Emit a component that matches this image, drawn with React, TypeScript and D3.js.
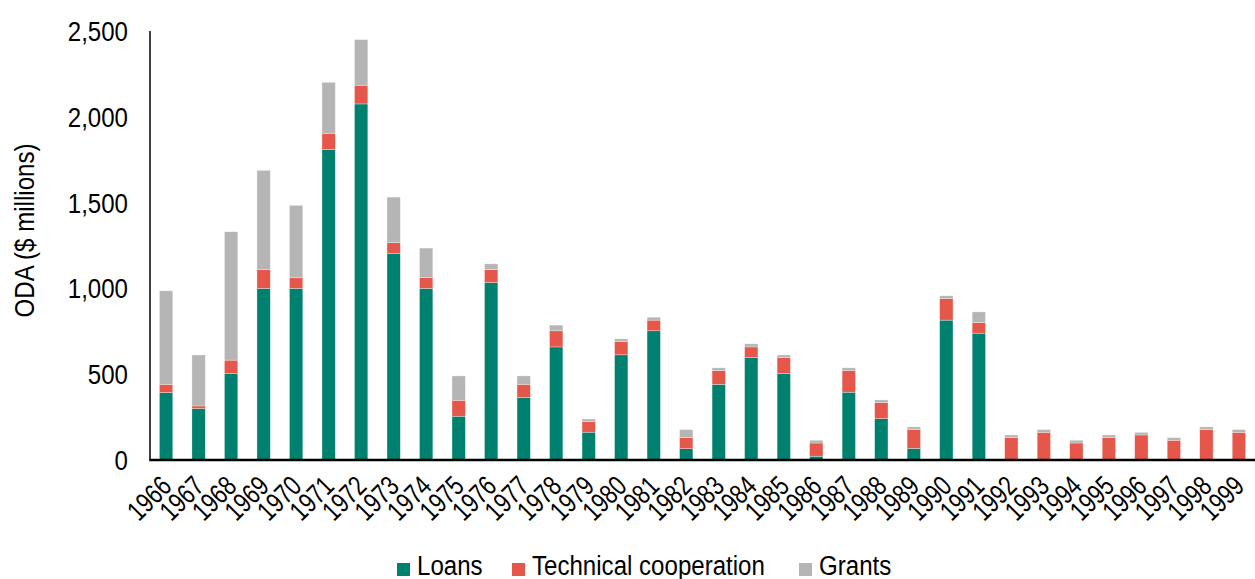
import React from 'react';
import * as d3 from 'd3';

const years = [
  '1966', '1967', '1968', '1969', '1970', '1971', '1972', '1973', '1974', '1975',
  '1976', '1977', '1978', '1979', '1980', '1981', '1982', '1983', '1984', '1985',
  '1986', '1987', '1988', '1989', '1990', '1991', '1992', '1993', '1994', '1995',
  '1996', '1997', '1998', '1999',
];

const loans = [
  393, 300, 504, 1000, 1000, 1810, 2075, 1204, 1000, 255,
  1034, 364, 659, 162, 613, 753, 66, 441, 597, 504,
  22, 395, 241, 68, 815, 739, 0, 0, 0, 0,
  0, 0, 0, 0,
];

const technical = [
  48, 15, 78, 110, 62, 94, 109, 62, 64, 93,
  76, 77, 94, 62, 77, 62, 64, 80, 62, 93,
  77, 126, 93, 109, 126, 62, 130, 161, 99, 130,
  146, 115, 177, 161,
];

const grants = [
  545, 297, 748, 578, 422, 297, 266, 266, 171, 142,
  33, 49, 33, 15, 16, 17, 47, 16, 18, 15,
  16, 16, 16, 16, 16, 62, 16, 16, 16, 16,
  15, 15, 16, 16,
];

const yTicks = [0, 500, 1000, 1500, 2000, 2500];

const seriesNames = ['Loans', 'Technical cooperation', 'Grants'];
const seriesColors = ['#00806E', '#E5574A', '#B5B5B5'];

const W = 1255;
const H = 579;
const FONT = "'Liberation Sans', Arial, sans-serif";
// squeeze Liberation Sans to look like the condensed face of the original
const NARROW = 0.86;

export default function App() {
  const svgRef = React.useRef<SVGSVGElement | null>(null);

  React.useEffect(() => {
    const svg = d3.select(svgRef.current);
    if (!svgRef.current) return;
    svg.selectAll('*').remove();

    const left = 150;
    const right = W;
    const top = 31;
    const bottom = 460;

    const rows = years.map((y, i) => ({
      year: y,
      Loans: loans[i],
      'Technical cooperation': technical[i],
      Grants: grants[i],
    }));

    const x = d3.scaleBand<string>().domain(years).range([left, right]).paddingInner(0.59).paddingOuter(0.29);
    const y = d3.scaleLinear().domain([0, 2500]).range([bottom, top]);

    const stack = d3.stack<any>().keys(seriesNames)(rows);

    // bars
    const layers = svg.append('g')
      .selectAll('g')
      .data(stack)
      .join('g')
      .attr('fill', (_, i) => seriesColors[i]);

    layers.selectAll('rect')
      .data(d => d)
      .join('rect')
      .attr('x', d => x(d.data.year) as number)
      .attr('width', x.bandwidth())
      .attr('y', d => y(d[1]))
      .attr('height', d => Math.max(0, y(d[0]) - y(d[1])))
      .attr('stroke', '#ffffff')
      .attr('stroke-opacity', 0.5)
      .attr('stroke-width', 0.6);

    // axis lines
    svg.append('line')
      .attr('x1', left).attr('x2', left)
      .attr('y1', y(2500)).attr('y2', bottom)
      .attr('stroke', '#000').attr('stroke-width', 1.5);
    svg.append('line')
      .attr('x1', left - 0.75).attr('x2', right)
      .attr('y1', bottom).attr('y2', bottom)
      .attr('stroke', '#000').attr('stroke-width', 2.5);

    // y tick labels
    svg.append('g')
      .selectAll('text')
      .data(yTicks)
      .join('text')
      .attr('transform', d => `translate(128,${y(d) + 10}) scale(${NARROW},1)`)
      .attr('text-anchor', 'end')
      .attr('font-family', FONT)
      .attr('font-size', 28)
      .attr('fill', '#000')
      .text(d => d3.format(',')(d));

    // x tick labels
    svg.append('g')
      .selectAll('text')
      .data(years)
      .join('text')
      .attr('transform', d => `translate(${(x(d) as number) + x.bandwidth() / 2 + 7},488) rotate(-45) scale(0.78,1)`)
      .attr('text-anchor', 'end')
      .attr('font-family', FONT)
      .attr('font-size', 28)
      .attr('fill', '#000')
      .text(d => d);

    // y title
    svg.append('text')
      .attr('transform', `translate(34,${(top + bottom) / 2 - 15}) rotate(-90) scale(${NARROW},1)`)
      .attr('text-anchor', 'middle')
      .attr('font-family', FONT)
      .attr('font-size', 28)
      .attr('fill', '#000')
      .text('ODA ($ millions)');

    // legend
    const legendX = [397, 512, 799];
    const legend = svg.append('g');
    seriesNames.forEach((name, i) => {
      const g = legend.append('g').attr('transform', `translate(${legendX[i]},563)`);
      g.append('rect').attr('width', 13).attr('height', 13).attr('fill', seriesColors[i]);
      g.append('text')
        .attr('transform', `translate(20,12) scale(${NARROW},1)`)
        .attr('font-family', FONT)
        .attr('font-size', 28)
        .attr('fill', '#000')
        .text(name);
    });
  }, []);

  return (
    <svg
      ref={svgRef}
      width={W}
      height={H}
      style={{ position: 'absolute', left: 0, top: 0, background: '#fff' }}
    />
  );
}
